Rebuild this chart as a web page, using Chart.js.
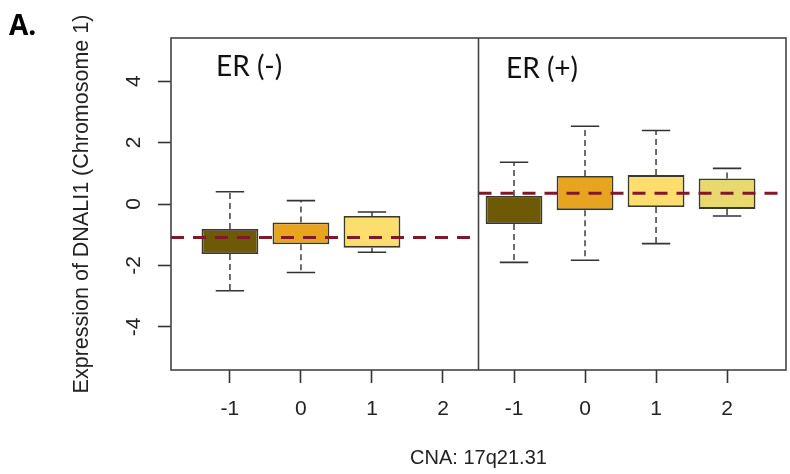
<!DOCTYPE html>
<html>
<head>
<meta charset="utf-8">
<script src="https://cdn.jsdelivr.net/npm/chart.js@4.4.0/dist/chart.umd.min.js"></script>
<style>
  body { margin: 0; background: #fff; }
</style>
</head>
<body>
<canvas id="boxChart" width="790" height="474"></canvas>
<script>
// CNA levels: ER(-) panel first, then ER(+) panel
const cnaLabels = ["-1", "0", "1", "2", "-1", "0", "1", "2"];
const panelNames = ["ER (-)", "ER (+)"];
// box plot values (null = no box drawn)
const whiskerLow  = [-2.82, -2.23, -1.57, null, -1.90, -1.83, -1.29, -0.39];
const boxLow      = [-1.63, -1.31, -1.42, null, -0.65, -0.20, -0.10, -0.16];
const boxHigh     = [-0.81, -0.60, -0.39, null,  0.26,  0.91,  0.94,  0.83];
const whiskerHigh = [ 0.40,  0.11, -0.26, null,  1.36,  2.53,  2.39,  1.16];
// dashed reference level of each panel
const panelLevel = [-1.09, 0.35];
const yTicks = [-4, -2, 0, 2, 4];

const boxColors = ["#6e5a06", "#e9a41f", "#fddd6d", null, "#6e5a06", "#e9a41f", "#fddd6d", "#e7d96d"];
const axisFont = "'Liberation Sans', Arial, sans-serif";

var boxData = [];
var boxFill = [];
for (let i = 0; i < cnaLabels.length; i++) {
    if (boxLow[i] === null) continue;
    boxData.push({ x: i, y: [boxLow[i], boxHigh[i]] });
    boxFill.push(boxColors[i]);
}

// whiskers, dashed panel lines, frame and the extra labels
const boxExtras = {
    id: 'boxExtras',
    afterDatasetsDraw(chart) {
        const ctx = chart.ctx;
        const xs = chart.scales.x;
        const ys = chart.scales.y;
        const area = chart.chartArea;
        const step = xs.getPixelForValue(1) - xs.getPixelForValue(0);
        const mid = xs.getPixelForValue(cnaLabels.length / 2 - 0.5);
        ctx.save();

        for (let i = 0; i < cnaLabels.length; i++) {
            if (whiskerLow[i] === null) continue;
            const px = xs.getPixelForValue(i);
            const yHi = ys.getPixelForValue(whiskerHigh[i]);
            const yLo = ys.getPixelForValue(whiskerLow[i]);
            ctx.strokeStyle = '#4a4a4a';
            ctx.lineWidth = 1.6;
            ctx.setLineDash([6, 4]);
            ctx.beginPath();
            ctx.moveTo(px, ys.getPixelForValue(boxHigh[i]));
            ctx.lineTo(px, yHi);
            ctx.moveTo(px, ys.getPixelForValue(boxLow[i]));
            ctx.lineTo(px, yLo);
            ctx.stroke();
            ctx.setLineDash([]);
            ctx.strokeStyle = '#333';
            ctx.beginPath();
            ctx.moveTo(px - step * 0.2, yHi);
            ctx.lineTo(px + step * 0.2, yHi);
            ctx.moveTo(px - step * 0.2, yLo);
            ctx.lineTo(px + step * 0.2, yLo);
            ctx.stroke();
        }

        // dashed level lines
        ctx.strokeStyle = '#80182a';
        ctx.lineWidth = 2.8;
        ctx.setLineDash([13, 9]);
        ctx.beginPath();
        ctx.moveTo(area.left, ys.getPixelForValue(panelLevel[0]));
        ctx.lineTo(mid, ys.getPixelForValue(panelLevel[0]));
        ctx.stroke();
        ctx.beginPath();
        ctx.moveTo(mid, ys.getPixelForValue(panelLevel[1]));
        ctx.lineTo(area.right, ys.getPixelForValue(panelLevel[1]));
        ctx.stroke();

        // frame + divider
        ctx.setLineDash([]);
        ctx.strokeStyle = '#444';
        ctx.lineWidth = 1.6;
        ctx.strokeRect(area.left, area.top, area.right - area.left, area.bottom - area.top);
        ctx.beginPath();
        ctx.moveTo(mid, area.top);
        ctx.lineTo(mid, area.bottom);
        ctx.stroke();

        // y tick labels, rotated like R
        ctx.fillStyle = '#222';
        ctx.font = "21px " + axisFont;
        ctx.textAlign = 'center';
        ctx.textBaseline = 'middle';
        yTicks.forEach(function(v) {
            ctx.save();
            ctx.translate(area.left - 37, ys.getPixelForValue(v));
            ctx.rotate(-Math.PI / 2);
            ctx.fillText(String(v), 0, 0);
            ctx.restore();
        });

        // panel names
        ctx.textAlign = 'left';
        ctx.textBaseline = 'alphabetic';
        ctx.fillStyle = '#111';
        ctx.font = "28px Lato, 'Open Sans', sans-serif";
        ctx.fillText(panelNames[0], 216, 76);
        ctx.fillText(panelNames[1], 506, 78);

        ctx.font = "bold 28px 'Open Sans', sans-serif";
        ctx.fillStyle = '#000';
        ctx.fillText('A.', 9, 35);
        ctx.restore();
    }
};

const boxChart = new Chart(document.getElementById('boxChart'), {
    type: 'bar',
    data: {
        datasets: [{
            data: boxData,
            backgroundColor: boxFill,
            borderColor: '#3a3a2a',
            borderWidth: 1.8,
            borderSkipped: false,
            categoryPercentage: 1,
            barPercentage: 0.8
        }]
    },
    options: {
        responsive: false,
        animation: false,
        layout: { padding: { left: 65, top: 38, right: 4, bottom: 0 } },
        plugins: {
            legend: { display: false },
            tooltip: { enabled: false }
        },
        scales: {
            x: {
                type: 'linear',
                min: -0.83,
                max: 7.83,
                offset: false,
                afterBuildTicks: function(s) {
                    s.ticks = cnaLabels.map(function(l, i) { return { value: i }; });
                },
                afterFit: function(s) { s.height = 104; },
                ticks: {
                    callback: function(v) { return cnaLabels[v]; },
                    font: { family: axisFont, size: 21 },
                    color: '#222',
                    padding: 14,
                    autoSkip: false,
                    maxRotation: 0
                },
                grid: { drawOnChartArea: false, offset: false, tickLength: 13, tickColor: '#333', tickWidth: 1.6 },
                border: { display: false },
                title: {
                    display: true,
                    text: 'CNA: 17q21.31',
                    font: { family: axisFont, size: 20 },
                    color: '#222'
                }
            },
            y: {
                min: -5.4,
                max: 5.4,
                afterBuildTicks: function(s) {
                    s.ticks = yTicks.map(function(v) { return { value: v }; });
                },
                afterFit: function(s) { s.width = 106; },
                ticks: { display: false },
                grid: { drawOnChartArea: false, tickLength: 13, tickColor: '#333', tickWidth: 1.6 },
                border: { display: false },
                title: {
                    display: true,
                    text: 'Expression of DNALI1 (Chromosome 1)',
                    font: { family: axisFont, size: 21.5 },
                    color: '#222'
                }
            }
        }
    },
    plugins: [boxExtras]
});
</script>
</body>
</html>
